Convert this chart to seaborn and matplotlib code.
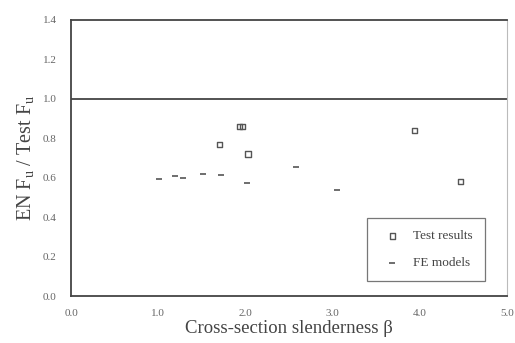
import matplotlib
matplotlib.use("Agg")
import matplotlib.pyplot as plt
import seaborn as sns
import pandas as pd

# Test results
test_beta = [1.70, 1.93, 1.97, 2.03, 3.94, 4.47]
test_ratio = [0.77, 0.86, 0.86, 0.72, 0.84, 0.58]
# FE models
fe_beta = [1.01, 1.19, 1.28, 1.51, 1.72, 2.02, 2.58, 3.05]
fe_ratio = [0.594, 0.61, 0.60, 0.62, 0.616, 0.574, 0.656, 0.537]

x_ticks = [0.0, 1.0, 2.0, 3.0, 4.0, 5.0]
y_ticks = [0.0, 0.2, 0.4, 0.6, 0.8, 1.0, 1.2, 1.4]
ref_level = 1.0

sns.set_theme(style="white")
plt.rcParams['font.family'] = ['Liberation Serif', 'DejaVu Serif']

fig = plt.figure(figsize=(5.15, 3.43), dpi=100)
ax = fig.add_axes([0.138, 0.137, 0.846, 0.805])

df_test = pd.DataFrame({"beta": test_beta, "ratio": test_ratio})
df_fe = pd.DataFrame({"beta": fe_beta, "ratio": fe_ratio})

sns.scatterplot(data=df_test, x="beta", y="ratio", ax=ax, marker="s", s=14,
                facecolor="none", edgecolor="#555555", linewidth=1.0,
                label="Test results")
sns.scatterplot(data=df_fe, x="beta", y="ratio", ax=ax, marker="_", s=14,
                color="#555555", linewidth=1.2, label="FE models")

ax.axhline(ref_level, color="#444444", lw=1.3)

ax.set_xlim(0, 5)
ax.set_ylim(0, 1.4)
ax.set_xticks(x_ticks)
ax.set_yticks(y_ticks)
ax.set_xticklabels([f"{v:.1f}" for v in x_ticks], fontsize=8, color="#666666")
ax.set_yticklabels([f"{v:.1f}" for v in y_ticks], fontsize=8, color="#666666")
ax.tick_params(axis="x", direction="out", length=2.5, width=0.8, color="#777777", pad=7)
ax.tick_params(axis="y", direction="out", length=2.5, width=0.8, color="#777777", pad=8)

for side in ["left", "bottom", "top"]:
    ax.spines[side].set_color("#444444")
    ax.spines[side].set_linewidth(1.3)
ax.spines["right"].set_color("#bbbbbb")
ax.spines["right"].set_linewidth(0.8)

ax.set_xlabel("Cross-section slenderness β", fontsize=13.5, color="#444444", labelpad=1)
ax.set_ylabel("EN F$_\\mathregular{u}$ / Test F$_\\mathregular{u}$", fontsize=14.5,
              color="#444444", labelpad=4)

leg = ax.legend(loc="lower right", bbox_to_anchor=(0.95, 0.054), fontsize=9.5,
                frameon=True, fancybox=False, edgecolor="#555555", borderaxespad=0,
                borderpad=0.9, labelspacing=1.1, handletextpad=0.6, markerscale=1.0)
leg.get_frame().set_linewidth(0.9)
for t in leg.get_texts():
    t.set_color("#444444")

fig.savefig("out.png", dpi=100)
